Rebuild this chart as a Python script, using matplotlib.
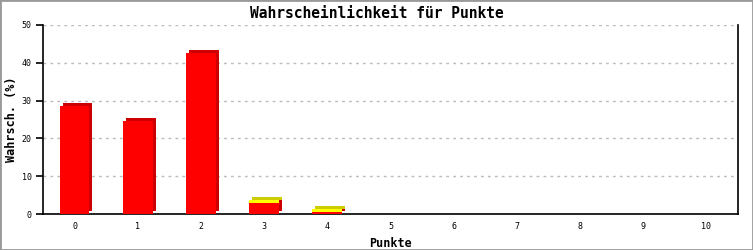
import matplotlib.pyplot as plt
from matplotlib.transforms import ScaledTranslation
from matplotlib.patches import Rectangle

punkte = list(range(11))
rot = [28.5, 24.6, 42.6, 2.9, 0.5, 0.0, 0, 0, 0, 0, 0]
gelb = [0.0, 0.0, 0.0, 0.9, 0.8, 0.1, 0, 0, 0, 0, 0]

font = 'DejaVu Sans Mono'

fig = plt.figure(figsize=(7.53, 2.5), dpi=100)
fig.patches.append(Rectangle((0, 0), 1, 1, transform=fig.transFigure,
                             fill=False, edgecolor='#999999', linewidth=2))
ax = fig.add_axes([43 / 753, 36 / 250, 695 / 753, 189 / 250])

# 3D-Effekt: dunklere, verschobene Balken hinter den vorderen
shift = ax.transData + ScaledTranslation(3 / 100, 3 / 100, fig.dpi_scale_trans)
w = 0.47
rot_b = [p for p, v in zip(punkte, rot) if v > 0]
rot_v = [v for v in rot if v > 0]
gelb_b = [p for p, v in zip(punkte, gelb) if v > 0]
gelb_v = [v for v in gelb if v > 0]
gelb_u = [rot[p] for p in gelb_b]

ax.bar(rot_b, rot_v, w, color='#cc0000', transform=shift, zorder=2)
ax.bar(gelb_b, gelb_v, w, bottom=gelb_u, color='#cccc00', transform=shift, zorder=2)
ax.bar(rot_b, rot_v, w, color='#ff0000', zorder=3)
ax.bar(gelb_b, gelb_v, w, bottom=gelb_u, color='#ffff00', zorder=3)

ax.set_xlim(-0.5, 10.5)
ax.set_ylim(0, 50)
ax.set_xticks(punkte)
ax.set_yticks(range(0, 51, 10))
ax.yaxis.grid(True, color='#bbbbbb', linestyle=(0, (2, 3)), linewidth=1)
ax.set_axisbelow(True)
ax.spines['top'].set_visible(False)
for s in ['left', 'bottom', 'right']:
    ax.spines[s].set_linewidth(1.2)
ax.tick_params(axis='x', length=0, pad=6, labelsize=6)
ax.tick_params(axis='y', length=5, width=1.2, pad=3, labelsize=6)
for lab in ax.get_xticklabels() + ax.get_yticklabels():
    lab.set_family(font)

ax.set_xlabel('Punkte', family=font, fontweight='bold', fontsize=8.5, labelpad=4)
ax.set_ylabel('Wahrsch. (%)', family=font, fontweight='bold', fontsize=8.5)
ax.yaxis.set_label_coords(-25 / 695, 0.5)
fig.text(0.5, 1 - 13 / 250, 'Wahrscheinlichkeit für Punkte', family=font,
         fontweight='bold', fontsize=10.5, ha='center', va='center')

fig.savefig('out.png', dpi=100)
